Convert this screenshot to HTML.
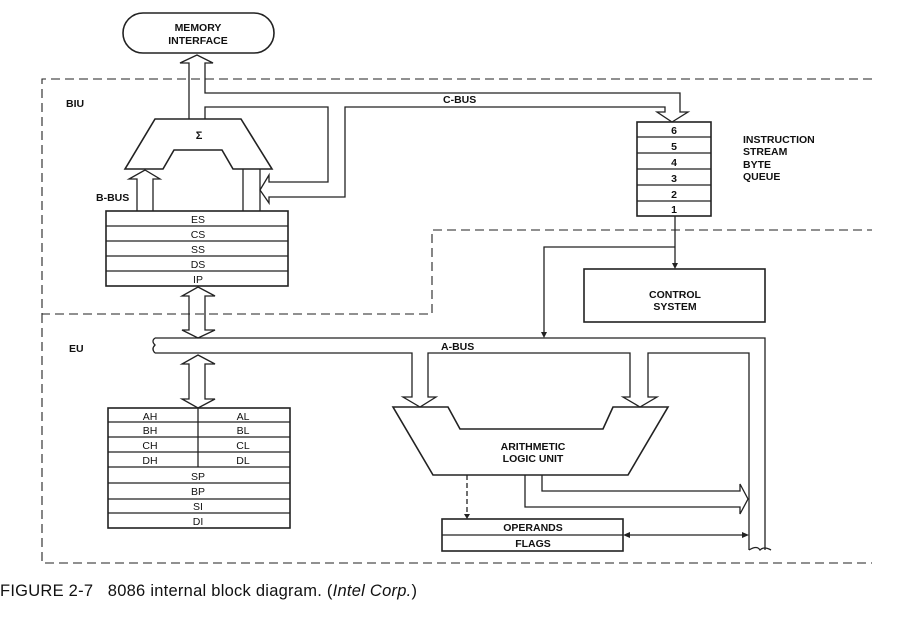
<!DOCTYPE html>
<html><head><style>
html,body{margin:0;padding:0;background:#fff;}
svg{display:block;}
text{font-family:"Liberation Sans",sans-serif;fill:#111;}
.t{font-size:10.5px;font-weight:bold;}
.r{font-size:10.5px;}
</style></head><body>
<svg width="915" height="623" viewBox="0 0 915 623" xmlns="http://www.w3.org/2000/svg">
<g fill="none" stroke="#222" stroke-width="1.3">
<g stroke-dasharray="9,5" stroke-width="1.1">
<polyline points="872,79 42,79 42,314 432,314 432,230 872,230"/>
<polyline points="42,314 42,563 872,563"/>
</g>
<rect x="123" y="13" width="151" height="40" rx="20" stroke-width="1.6"/>
<polyline points="189,119 189,63 180,63 197,55 213,63 205,63 205,93 680,93 680,112 688,112 672,122 657,112 665,112 665,107 345,107 345,197 269,197 269,203 260,190 269,175 269,182 328,182 328,107 205,107 205,119"/>
<polygon points="155,119 241,119 272,169 233,169 222,150 174,150 163,169 125,169" stroke-width="1.6"/>
<polyline points="137,211 137,179 129,179 145,170 160,179 153,179 153,211"/>
<polyline points="243,169 243,211"/><polyline points="260,169 260,211"/>
<rect x="106" y="211" width="182" height="75" stroke-width="1.6"/>
<line x1="106" y1="226" x2="288" y2="226"/><line x1="106" y1="241" x2="288" y2="241"/>
<line x1="106" y1="256" x2="288" y2="256"/><line x1="106" y1="271" x2="288" y2="271"/>
<polygon points="198,287 215,296 205,296 205,330 215,330 198,338 182,330 189,330 189,296 182,296"/>
<polyline points="155,338 765,338 765,550"/>
<path d="M155,338 q-4,3 0,7 q-4,4 0,8"/>
<polyline points="155,353 412,353 412,397 403,397 420,407 436,397 428,397 428,353 630,353 630,397 623,397 640,407 657,397 648,397 648,353 749,353 749,550"/>
<path d="M749,550 q8,-5 11,0 q4,-4 11,0"/>
<polygon points="198,355 215,364 205,364 205,399 215,399 198,408 182,399 189,399 189,364 182,364"/>
<rect x="108" y="408" width="182" height="120" stroke-width="1.6"/>
<line x1="108" y1="422" x2="290" y2="422"/><line x1="108" y1="437" x2="290" y2="437"/>
<line x1="108" y1="452" x2="290" y2="452"/><line x1="108" y1="467" x2="290" y2="467"/>
<line x1="108" y1="483" x2="290" y2="483"/><line x1="108" y1="499" x2="290" y2="499"/>
<line x1="108" y1="513" x2="290" y2="513"/><line x1="198" y1="408" x2="198" y2="467"/>
<rect x="637" y="122" width="74" height="94" stroke-width="1.6"/>
<line x1="637" y1="137" x2="711" y2="137"/><line x1="637" y1="153" x2="711" y2="153"/>
<line x1="637" y1="169" x2="711" y2="169"/><line x1="637" y1="185" x2="711" y2="185"/>
<line x1="637" y1="201" x2="711" y2="201"/>
<line x1="675" y1="216" x2="675" y2="266"/>
<polyline points="675,247 544,247 544,335"/>
<rect x="584" y="269" width="181" height="53" stroke-width="1.6"/>
<polygon points="393,407 448,407 460,429 603,429 613,407 668,407 628,475 433,475" stroke-width="1.6"/>
<line x1="467" y1="475" x2="467" y2="516" stroke-dasharray="5,3"/>
<rect x="442" y="519" width="181" height="32" stroke-width="1.6"/>
<line x1="442" y1="535" x2="623" y2="535"/>
<polyline points="542,475 542,491 740,491 740,484 748,499 740,514 740,507 525,507 525,475"/>
<line x1="626" y1="535" x2="746" y2="535"/>
</g>
<g fill="#222">
<polygon points="672,263 678,263 675,269"/>
<polygon points="541,332 547,332 544,338"/>
<polygon points="464,514 470,514 467,519"/>
<polygon points="623,535 630,532 630,538"/>
<polygon points="749,535 742,532 742,538"/>
</g>
<g text-anchor="middle" class="t">
<text x="198" y="31">MEMORY</text><text x="198" y="44">INTERFACE</text>
<text x="199" y="139" font-size="11">Σ</text>
<text x="533" y="450">ARITHMETIC</text><text x="533" y="462">LOGIC UNIT</text>
<text x="675" y="298">CONTROL</text><text x="675" y="310">SYSTEM</text>
<text x="533" y="531">OPERANDS</text><text x="533" y="547">FLAGS</text>
</g>
<g text-anchor="middle" class="r">
<text x="198" y="223">ES</text><text x="198" y="238">CS</text><text x="198" y="253">SS</text><text x="198" y="268">DS</text><text x="198" y="283">IP</text>
<text x="150" y="420">AH</text><text x="243" y="420">AL</text>
<text x="150" y="434">BH</text><text x="243" y="434">BL</text>
<text x="150" y="449">CH</text><text x="243" y="449">CL</text>
<text x="150" y="464">DH</text><text x="243" y="464">DL</text>
<text x="198" y="480">SP</text><text x="198" y="495">BP</text><text x="198" y="510">SI</text><text x="198" y="525">DI</text>
<text x="674" y="134" font-weight="bold">6</text><text x="674" y="150" font-weight="bold">5</text><text x="674" y="166" font-weight="bold">4</text>
<text x="674" y="182" font-weight="bold">3</text><text x="674" y="198" font-weight="bold">2</text><text x="674" y="213" font-weight="bold">1</text>
</g>
<g class="t">
<text x="66" y="107">BIU</text>
<text x="69" y="352">EU</text>
<text x="96" y="201">B-BUS</text>
<text x="443" y="103">C-BUS</text>
<text x="441" y="350">A-BUS</text>
<text x="743" y="143">INSTRUCTION</text><text x="743" y="155">STREAM</text>
<text x="743" y="168">BYTE</text><text x="743" y="180">QUEUE</text>
</g>
<text x="0" y="596" font-size="16.5" textLength="417" lengthAdjust="spacing">FIGURE 2-7&#160;&#160;&#160;8086 internal block diagram. (<tspan font-style="italic">Intel Corp.</tspan>)</text>
</svg>
</body></html>
